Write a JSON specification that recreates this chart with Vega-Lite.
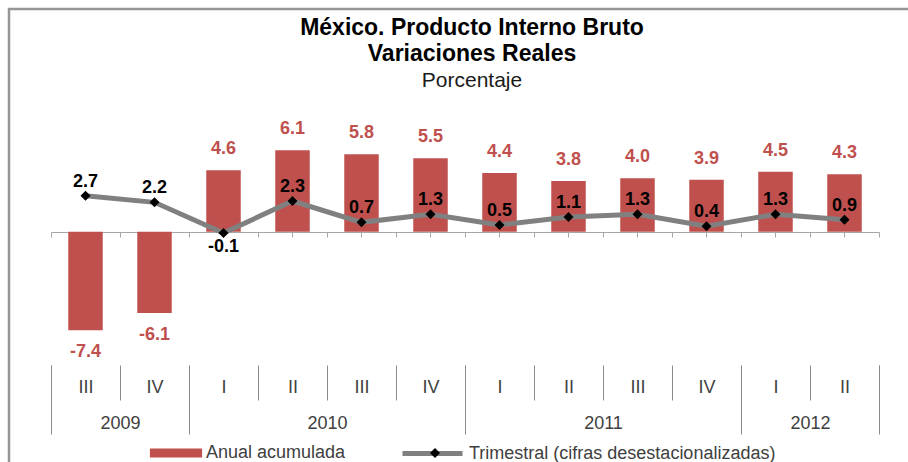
{
  "$schema": "https://vega.github.io/schema/vega-lite/v6.json",
  "width": 910,
  "height": 460,
  "autosize": "none",
  "padding": {"left": 9, "top": 9, "right": 0, "bottom": 0},
  "title": {
    "text": ["México. Producto Interno Bruto", "Variaciones Reales"],
    "subtitle": "Porcentaje",
    "anchor": "middle",
    "frame": "group",
    "offset": -82,
    "dx": 8,
    "font": "Liberation Sans",
    "fontSize": 23,
    "fontWeight": "bold",
    "color": "#000000",
    "lineHeight": 26,
    "subtitleFont": "Liberation Sans",
    "subtitleFontSize": 21,
    "subtitleColor": "#1a1a1a",
    "subtitlePadding": 4
  },
  "data": {
    "values": [
      {"periodo": "2009-III", "anual": -7.4, "trimestral": 2.7},
      {"periodo": "2009-IV", "anual": -6.1, "trimestral": 2.2},
      {"periodo": "2010-I", "anual": 4.6, "trimestral": -0.1},
      {"periodo": "2010-II", "anual": 6.1, "trimestral": 2.3},
      {"periodo": "2010-III", "anual": 5.8, "trimestral": 0.7},
      {"periodo": "2010-IV", "anual": 5.5, "trimestral": 1.3},
      {"periodo": "2011-I", "anual": 4.4, "trimestral": 0.5},
      {"periodo": "2011-II", "anual": 3.8, "trimestral": 1.1},
      {"periodo": "2011-III", "anual": 4.0, "trimestral": 1.3},
      {"periodo": "2011-IV", "anual": 3.9, "trimestral": 0.4},
      {"periodo": "2012-I", "anual": 4.5, "trimestral": 1.3},
      {"periodo": "2012-II", "anual": 4.3, "trimestral": 0.9}
    ]
  },
  "layer": [
    {
      "mark": {"type": "bar", "width": {"band": 0.5}},
      "encoding": {
        "x": {
          "field": "periodo", "type": "nominal", "sort": null,
          "scale": {"range": [42, 870], "paddingInner": 0, "paddingOuter": 0},
          "axis": {
            "orient": "bottom", "offset": -237, "title": null, "labels": false,
            "domain": true, "domainColor": "#a6a6a6", "domainWidth": 1,
            "ticks": true, "tickBand": "extent", "tickSize": 5, "tickColor": "#a6a6a6", "grid": false
          }
        },
        "y": {
          "field": "anual", "type": "quantitative",
          "scale": {"domain": [-10, 8], "range": [356, 116], "nice": false, "zero": false},
          "axis": null
        },
        "fill": {
          "datum": "Anual acumulada",
          "scale": {"range": ["#C0504D"]},
          "legend": {
            "orient": "none", "legendX": 137, "legendY": 414,
            "title": null, "padding": 0, "symbolSize": 3600,
            "symbolType": "M-0.87,-0.15H0.87V0.15H-0.87Z", "symbolStrokeWidth": 0,
            "labelFont": "Liberation Sans", "labelFontSize": 18, "labelColor": "#404040",
            "labelOffset": 0, "labelLimit": 400
          }
        }
      }
    },
    {
      "mark": {"type": "line", "strokeWidth": 5},
      "encoding": {
        "x": {
          "field": "periodo", "type": "nominal", "sort": null,
          "axis": {
            "orient": "bottom", "offset": -104, "title": null, "domain": false,
            "tickBand": "extent", "tickSize": 35, "tickColor": "#8c8c8c", "tickWidth": 1,
            "labelExpr": "datum.value ? split(datum.value, '-')[1] : ''",
            "labelPadding": -22, "labelFont": "Liberation Sans", "labelFontSize": 18,
            "labelColor": "#404040", "labelAngle": 0, "grid": false,
            "labelOverlap": false, "labelBound": false, "labelFlush": false
          }
        },
        "y": {"field": "trimestral", "type": "quantitative", "axis": null},
        "stroke": {
          "datum": "Trimestral (cifras desestacionalizadas)",
          "scale": {"range": ["#808080"]},
          "legend": {
            "orient": "none", "legendX": 391, "legendY": 412,
            "title": null, "padding": 0, "symbolSize": 3600,
            "symbolType": "M-1,0H1", "symbolStrokeWidth": 5,
            "labelFont": "Liberation Sans", "labelFontSize": 18, "labelColor": "#404040",
            "labelOffset": 4, "labelLimit": 400
          }
        }
      }
    },
    {
      "mark": {"type": "point", "filled": true, "size": 100, "opacity": 1, "color": "#000000"},
      "encoding": {
        "x": {
          "field": "periodo", "type": "nominal", "sort": null,
          "axis": {
            "orient": "bottom", "offset": -104, "title": null, "domain": false,
            "tickBand": "extent", "tickSize": 69, "tickColor": "#8c8c8c", "tickWidth": 1,
            "tickOpacity": {"condition": {"test": "indexof(['2009-III','2010-I','2010-II','2010-III','2011-I','2011-II','2011-III','2012-I'], datum.value) >= 0", "value": 0}, "value": 1},
            "labelExpr": "datum.value == '2009-IV' ? '2009' : datum.value == '2010-III' ? '2010' : datum.value == '2011-III' ? '2011' : datum.value == '2012-II' ? '2012' : ''",
            "labelOffset": -34.5, "labelPadding": -20, "labelFont": "Liberation Sans", "labelFontSize": 18,
            "labelColor": "#404040", "labelAngle": 0, "grid": false,
            "labelOverlap": false, "labelBound": false, "labelFlush": false
          }
        },
        "y": {"field": "trimestral", "type": "quantitative", "axis": null},
        "shape": {
          "datum": "Trimestral",
          "scale": {"range": ["diamond"]},
          "legend": {
            "orient": "none", "legendX": 421, "legendY": 439, "title": null, "padding": 0,
            "symbolSize": 100, "symbolType": "diamond", "symbolFillColor": "#000000",
            "symbolStrokeWidth": 0, "labelExpr": "''"
          }
        }
      }
    },
    {
      "transform": [{"filter": "datum.anual >= 0"}],
      "mark": {"type": "text", "font": "Liberation Sans", "fontSize": 18, "fontWeight": "bold", "color": "#C0504D", "baseline": "middle", "dy": -21},
      "encoding": {
        "x": {
          "field": "periodo", "type": "nominal", "sort": null,
          "axis": {
            "orient": "bottom", "offset": -237, "title": null, "labels": false,
            "domain": false, "ticks": true, "tickSize": 5, "tickColor": "#a6a6a6", "grid": false
          }
        },
        "y": {"field": "anual", "type": "quantitative", "axis": null},
        "text": {"field": "anual", "type": "quantitative", "format": ".1f"}
      }
    },
    {
      "transform": [{"filter": "datum.anual < 0"}],
      "mark": {"type": "text", "font": "Liberation Sans", "fontSize": 18, "fontWeight": "bold", "color": "#C0504D", "baseline": "middle", "dy": 22},
      "encoding": {
        "x": {"field": "periodo", "type": "nominal", "sort": null, "axis": null},
        "y": {"field": "anual", "type": "quantitative", "axis": null},
        "text": {"field": "anual", "type": "quantitative", "format": ".1f"}
      }
    },
    {
      "transform": [{"filter": "datum.trimestral >= 0"}],
      "mark": {"type": "text", "font": "Liberation Sans", "fontSize": 18, "fontWeight": "bold", "color": "#000000", "baseline": "middle", "dy": -14},
      "encoding": {
        "x": {"field": "periodo", "type": "nominal", "sort": null, "axis": null},
        "y": {"field": "trimestral", "type": "quantitative", "axis": null},
        "text": {"field": "trimestral", "type": "quantitative", "format": ".1f"}
      }
    },
    {
      "transform": [{"filter": "datum.trimestral < 0"}],
      "mark": {"type": "text", "font": "Liberation Sans", "fontSize": 18, "fontWeight": "bold", "color": "#000000", "baseline": "middle", "dy": 14},
      "encoding": {
        "x": {"field": "periodo", "type": "nominal", "sort": null, "axis": null},
        "y": {"field": "trimestral", "type": "quantitative", "axis": null},
        "text": {"field": "trimestral", "type": "quantitative", "format": ".1f"}
      }
    }
  ],
  "resolve": {"axis": {"x": "independent"}},
  "config": {
    "view": {"stroke": "#959595", "strokeWidth": 2.5},
    "font": "Liberation Sans",
    "locale": {
      "number": {"decimal": ".", "thousands": ",", "grouping": [3], "currency": ["$", ""], "minus": "-"}
    }
  }
}
